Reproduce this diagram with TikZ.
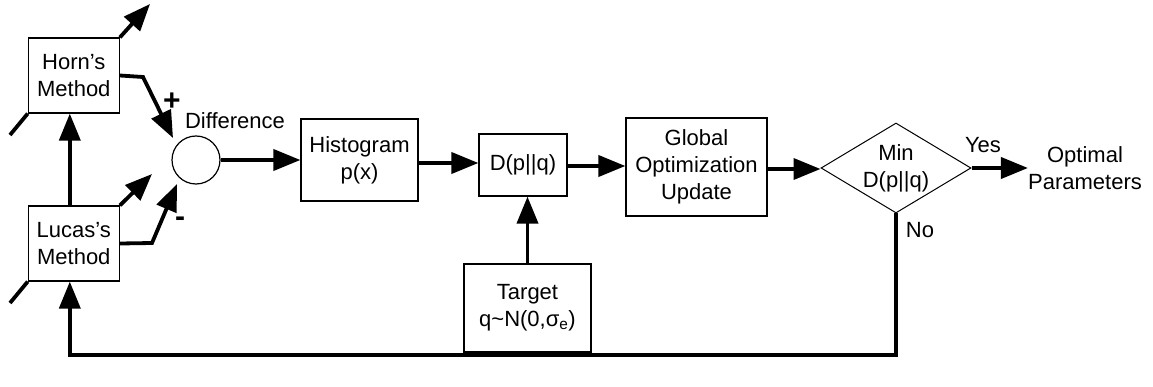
\documentclass[tikz,border=0pt]{standalone}
\usepackage{fontspec}
\setmainfont{Liberation Sans}
\usetikzlibrary{arrows.meta,shapes.geometric}
\begin{document}
\begin{tikzpicture}[x=1pt,y=-1pt,
  txt/.style={font=\fontsize{22}{27}\selectfont,align=center,inner sep=0pt},
  sign/.style={font=\fontsize{30}{30}\selectfont\bfseries,inner sep=0pt},
  box/.style={txt,draw,line width=1.2pt},
  flow/.style={line width=3.8pt,-{Triangle[length=27pt,width=21pt]}},
  plain/.style={line width=3.8pt}]
\useasboundingbox (0,0) rectangle (1153,387);
% blocks
\node[box,minimum width=91pt,minimum height=75pt] (horn) at (73.8,75.5) {Horn’s\\Method};
\node[box,minimum width=91pt,minimum height=75pt] (lucas) at (73.8,243.5) {Lucas’s\\Method};
\node[draw,circle,line width=1.2pt,minimum size=48pt,inner sep=0pt] (sum) at (196,160) {};
\node[box,minimum width=117pt,minimum height=82pt] (hist) at (359.5,160) {Histogram\\p(x)};
\node[box,minimum width=88pt,minimum height=62pt] (div) at (523,165) {D(p||q)};
\node[box,minimum width=141pt,minimum height=98pt] (glob) at (696.5,167) {Global\\Optimization\\Update};
\node[box,minimum width=127pt,minimum height=88pt] (targ) at (527.5,308) {Target\\q\textasciitilde N(0,σ\textsubscript{e})};
\node[txt,draw,diamond,line width=1pt,minimum width=150pt,minimum height=90pt,aspect=1.667] (dec) at (896,168) {Min\\D(p||q)};
% labels
\node[txt] (difflbl) at (235,121) {Difference};
\node[sign] (plus) at (172,102) {+};
\node[sign] (minus) at (180,222) {-};
\node[txt] (yes) at (983,145) {Yes};
\node[txt] (no) at (920,230) {No};
\node[txt] (opt) at (1085,168) {Optimal\\Parameters};
% free ends
\coordinate (hornOut) at (150,4);
\coordinate (hornIn) at (10,135);
\coordinate (lucasOut) at (152,174);
\coordinate (lucasIn) at (10,303);
\coordinate (hornBend) at (143,77);
\coordinate (hornTip) at (173,138);
\coordinate (lucasBend) at (152,243);
\coordinate (lucasTip) at (177,184);
\coordinate (loopY) at (896,355);
% connectors
\draw[flow] (horn.north east) -- (hornOut);
\draw[plain] (horn.south west) -- (hornIn);
\draw[flow] (lucas.north east) -- (lucasOut);
\draw[plain] (lucas.south west) -- (lucasIn);
\draw[flow] (horn.east) -- (hornBend) -- (hornTip);
\draw[flow] (lucas.east) -- (lucasBend) -- (lucasTip);
\draw[flow] ([xshift=-4pt]lucas.north) -- ([xshift=-4pt]horn.south);
\draw[flow] (sum.east) -- (sum.east -| hist.west);
\draw[flow] ([yshift=-3pt]hist.east) -- ([yshift=-3pt]hist.east -| div.west);
\draw[flow] ([yshift=-1pt]div.east) -- ([yshift=-1pt]div.east -| glob.west);
\draw[flow] ([yshift=-2pt]glob.east) -- ([yshift=-2pt]glob.east -| dec.west);
\draw[flow] (targ.north) -- (targ.north |- div.south);
\draw[flow] (dec.east) -- (dec.east -| opt.west);
\draw[flow] (dec.south) -- (loopY) -| ([xshift=-4pt]lucas.south);
\end{tikzpicture}
\end{document}
